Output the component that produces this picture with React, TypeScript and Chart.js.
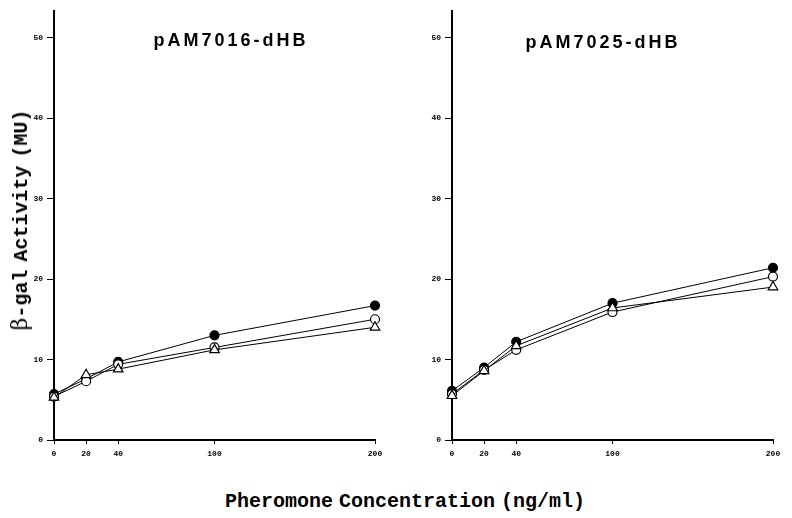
import React, { useEffect, useRef } from "react";
import { Chart, registerables } from "chart.js";

Chart.register(...registerables);

const concentrations = [0, 20, 40, 100, 200];
const yTickValues = [0, 10, 20, 30, 40, 50];
const panelTitles = ["pAM7016-dHB", "pAM7025-dHB"];

// pAM7016-dHB
const leftFilled = [5.7, 7.6, 9.7, 13.0, 16.7];
const leftOpen = [5.4, 7.3, 9.4, 11.5, 15.0];
const leftTriangle = [5.3, 8.1, 8.8, 11.2, 14.0];

// pAM7025-dHB
const rightFilled = [6.1, 9.0, 12.2, 17.0, 21.4];
const rightOpen = [5.7, 8.7, 11.2, 15.9, 20.3];
const rightTriangle = [5.5, 8.6, 11.7, 16.4, 19.0];

const MONO = '"Liberation Mono", "DejaVu Sans Mono", monospace';

function toPoints(values: number[]) {
  return concentrations.map((x, i) => ({ x, y: values[i] }));
}

function makeDatasets(filled: number[], open: number[], tri: number[]) {
  const base = {
    borderColor: "#000",
    borderWidth: 1,
    pointBorderColor: "#000",
    pointBorderWidth: 1.2,
    tension: 0,
    fill: false,
    clip: false,
  };
  return [
    {
      ...base,
      label: "triangle",
      data: toPoints(tri),
      pointStyle: "triangle",
      pointRadius: 5.5,
      pointBackgroundColor: "#fff",
    },
    {
      ...base,
      label: "open",
      data: toPoints(open),
      pointStyle: "circle",
      pointRadius: 4.5,
      pointBackgroundColor: "#fff",
    },
    {
      ...base,
      label: "filled",
      data: toPoints(filled),
      pointStyle: "circle",
      pointRadius: 4.5,
      pointBackgroundColor: "#000",
    },
  ];
}

function Panel({
  filled,
  open,
  tri,
  yAxisWidth,
  rightPad,
  top,
  xAxisHeight,
}: {
  filled: number[];
  open: number[];
  tri: number[];
  yAxisWidth: number;
  rightPad: number;
  top: number;
  xAxisHeight: number;
}) {
  const ref = useRef<HTMLCanvasElement | null>(null);
  useEffect(() => {
    if (!ref.current) return;
    const chart = new Chart(ref.current, {
      type: "line",
      data: { datasets: makeDatasets(filled, open, tri) as any },
      options: {
        animation: false,
        responsive: false,
        maintainAspectRatio: false,
        layout: { padding: { left: 0, top, right: rightPad, bottom: 0 } },
        plugins: {
          legend: { display: false },
          tooltip: { enabled: false },
          title: { display: false },
        },
        scales: {
          x: {
            type: "linear",
            min: 0,
            max: 200,
            afterBuildTicks: (scale: any) => {
              scale.ticks = concentrations.map((v) => ({ value: v }));
            },
            afterFit: (scale: any) => {
              scale.height = xAxisHeight;
            },
            grid: {
              drawOnChartArea: false,
              drawTicks: true,
              tickLength: 4,
              color: "#000",
              lineWidth: 1,
            },
            border: { display: true, color: "#000", width: 2 },
            ticks: {
              color: "#000",
              padding: 5,
              maxRotation: 0,
              autoSkip: false,
              font: { family: MONO, size: 8, weight: "bold" },
            },
          },
          y: {
            type: "linear",
            min: 0,
            max: 53.3,
            afterBuildTicks: (scale: any) => {
              scale.ticks = yTickValues.map((v) => ({ value: v }));
            },
            afterFit: (scale: any) => {
              scale.width = yAxisWidth;
            },
            grid: {
              drawOnChartArea: false,
              drawTicks: true,
              tickLength: 7,
              color: "#000",
              lineWidth: 1,
            },
            border: { display: true, color: "#000", width: 2 },
            ticks: {
              color: "#000",
              padding: 4,
              font: { family: MONO, size: 8, weight: "bold" },
            },
          },
        },
      } as any,
    });
    return () => chart.destroy();
  }, []);
  return <canvas ref={ref} width={400} height={470} style={{ display: "block", width: 400, height: 470 }} />;
}

export default function App() {
  const titleStyle: React.CSSProperties = {
    position: "absolute",
    fontFamily: '"Liberation Sans", Arial, sans-serif',
    fontWeight: "bold",
    fontSize: 18,
    letterSpacing: 3,
    color: "#000",
    transform: "translate(-50%, -50%)",
    whiteSpace: "nowrap",
  };
  return (
    <div
      style={{
        position: "fixed",
        left: 0,
        top: 0,
        width: 792,
        height: 518,
        background: "#fff",
        overflow: "hidden",
      }}
    >
      <div style={{ position: "absolute", left: 0, top: 0, width: 400, height: 470 }}>
        <Panel filled={leftFilled} open={leftOpen} tri={leftTriangle} yAxisWidth={54} rightPad={25} top={11} xAxisHeight={30} />
      </div>
      <div style={{ position: "absolute", left: 398, top: 0, width: 400, height: 470 }}>
        <Panel filled={rightFilled} open={rightOpen} tri={rightTriangle} yAxisWidth={54} rightPad={25} top={11} xAxisHeight={30} />
      </div>
      <div style={{ ...titleStyle, left: 231, top: 40 }}>{panelTitles[0]}</div>
      <div style={{ ...titleStyle, left: 603, top: 42 }}>{panelTitles[1]}</div>
      <div
        style={{
          position: "absolute",
          left: 20,
          top: 220,
          transform: "translate(-50%, -50%) rotate(-90deg)",
          whiteSpace: "nowrap",
          fontFamily: MONO,
          fontWeight: "bold",
          fontSize: 20,
          wordSpacing: -4,
          color: "#000",
        }}
      >
        <span style={{ fontFamily: '"DejaVu Serif", "Liberation Serif", serif', fontWeight: "normal", fontSize: 22 }}>β</span>
        -gal Activity (MU)
      </div>
      <div
        style={{
          position: "absolute",
          left: 405,
          top: 501,
          transform: "translate(-50%, -50%)",
          whiteSpace: "nowrap",
          fontFamily: MONO,
          fontWeight: "bold",
          fontSize: 20,
          wordSpacing: -6,
          color: "#000",
        }}
      >
        Pheromone Concentration (ng/ml)
      </div>
    </div>
  );
}
